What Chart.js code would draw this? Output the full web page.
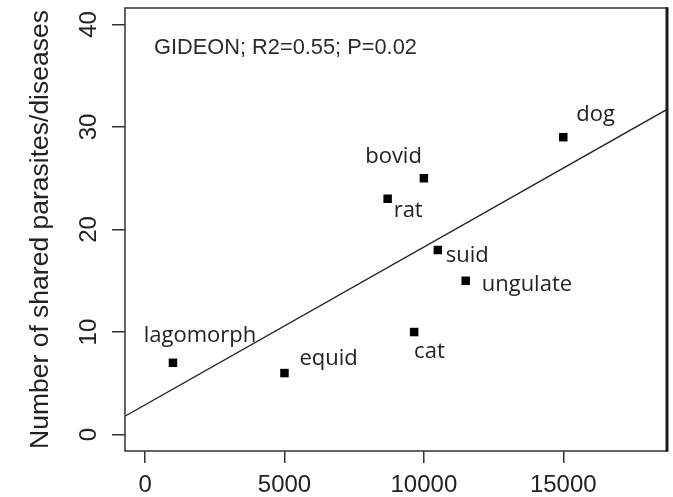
<!DOCTYPE html>
<html>
<head>
<meta charset="utf-8">
<script src="https://cdn.jsdelivr.net/npm/chart.js@4.4.1/dist/chart.umd.min.js"></script>
<style>
  html, body { margin: 0; padding: 0; background: #fff; }
  #wrap { width: 673px; height: 497px; }
  canvas { display: block; }
</style>
</head>
<body>
<div id="wrap"><canvas id="chart" width="673" height="497"></canvas></div>
<script>
// Host groups, their size measure and number of shared parasites/diseases
const species = ['lagomorph', 'equid', 'rat', 'cat', 'bovid', 'suid', 'ungulate', 'dog'];
const hostMeasure = [1000, 5000, 8700, 9650, 10000, 10500, 11500, 15000];
const sharedCount = [7, 6, 23, 10, 25, 18, 15, 29];

// Axis ticks and limits (R-style 4% expansion is applied below)
const xTicks = [0, 5000, 10000, 15000];
const yTicks = [0, 10, 20, 30, 40];
const xLimits = [0, 18000];
const yLimits = [0, 40];

const statsNote = 'GIDEON; R2=0.55; P=0.02';
const yTitle = 'Number of shared parasites/diseases';

// Label placement around each point: offset in px to the text baseline
const labelPlacement = {
  lagomorph: { dx: 27, dy: -21, align: 'center' },
  equid:     { dx: 15, dy: -8,  align: 'left' },
  rat:       { dx: 6,  dy: 18,  align: 'left' },
  cat:       { dx: 0,  dy: 26,  align: 'left' },
  bovid:     { dx: -2, dy: -15, align: 'right' },
  suid:      { dx: 8,  dy: 12,  align: 'left' },
  ungulate:  { dx: 16, dy: 10,  align: 'left' },
  dog:       { dx: 13, dy: -16, align: 'left' }
};

function expand(lim) {
  const pad = (lim[1] - lim[0]) * 0.04;
  return [lim[0] - pad, lim[1] + pad];
}
const xRange = expand(xLimits);
const yRange = expand(yLimits);

// Least-squares fit of sharedCount on hostMeasure
function linearFit(xs, ys) {
  const n = xs.length;
  const mx = xs.reduce((a, b) => a + b, 0) / n;
  const my = ys.reduce((a, b) => a + b, 0) / n;
  let sxy = 0, sxx = 0;
  for (let i = 0; i < n; i++) {
    sxy += (xs[i] - mx) * (ys[i] - my);
    sxx += (xs[i] - mx) * (xs[i] - mx);
  }
  const slope = sxy / sxx;
  return { slope, intercept: my - slope * mx };
}
const fit = linearFit(hostMeasure, sharedCount);
const fitLine = xRange.map(x => ({ x, y: fit.intercept + fit.slope * x }));

const points = hostMeasure.map((x, i) => ({ x, y: sharedCount[i], name: species[i] }));

const AXIS_FONT = 'Liberation Sans, Arial, sans-serif';
const LABEL_FONT = '"Open Sans", "Noto Sans", sans-serif';

const decorations = {
  id: 'decorations',
  afterDraw(chart) {
    const { ctx, chartArea: a, scales } = chart;
    ctx.save();

    // Frame around the plotting region
    ctx.strokeStyle = '#333';
    ctx.lineWidth = 1.5;
    ctx.beginPath();
    ctx.moveTo(a.right, a.top);
    ctx.lineTo(a.left, a.top);
    ctx.lineTo(a.left, a.bottom);
    ctx.lineTo(a.right, a.bottom);
    ctx.stroke();
    ctx.strokeStyle = '#1a1a1a';
    ctx.lineWidth = 3;
    ctx.beginPath();
    ctx.moveTo(a.right, a.top - 0.75);
    ctx.lineTo(a.right, a.bottom + 0.75);
    ctx.stroke();

    // Y tick labels, written along the axis
    ctx.fillStyle = '#222';
    ctx.font = '24px ' + AXIS_FONT;
    ctx.textAlign = 'center';
    ctx.textBaseline = 'alphabetic';
    scales.y.ticks.forEach(t => {
      const py = scales.y.getPixelForValue(t.value);
      ctx.save();
      ctx.translate(a.left - 29, py);
      ctx.rotate(-Math.PI / 2);
      ctx.fillText(String(t.value), 0, 0);
      ctx.restore();
    });

    // Statistics note in the top-left corner
    ctx.fillStyle = '#2b2b2b';
    ctx.font = '21.8px ' + AXIS_FONT;
    ctx.textAlign = 'left';
    ctx.fillText(statsNote, a.left + 29, a.top + 46);

    // Point labels
    ctx.fillStyle = '#222';
    ctx.font = '22px ' + LABEL_FONT;
    const meta = chart.getDatasetMeta(0);
    meta.data.forEach((el, i) => {
      const p = labelPlacement[species[i]];
      ctx.textAlign = p.align;
      ctx.fillText(species[i], el.x + p.dx, el.y + p.dy);
    });

    ctx.restore();
  }
};

new Chart(document.getElementById('chart'), {
  type: 'scatter',
  data: {
    datasets: [
      {
        label: 'hosts',
        data: points,
        pointStyle: 'rect',
        pointRadius: 6,
        pointHoverRadius: 6,
        pointBackgroundColor: '#000',
        pointBorderWidth: 0,
        order: 0
      },
      {
        type: 'line',
        label: 'fit',
        data: fitLine,
        borderColor: '#222',
        borderWidth: 1.3,
        pointRadius: 0,
        fill: false,
        tension: 0,
        order: 1
      }
    ]
  },
  options: {
    responsive: false,
    devicePixelRatio: 1,
    animation: false,
    layout: { padding: { top: 8, right: 4, bottom: 0, left: 0 } },
    plugins: { legend: { display: false }, tooltip: { enabled: false } },
    scales: {
      x: {
        type: 'linear',
        min: xRange[0],
        max: xRange[1],
        afterBuildTicks: s => { s.ticks = xTicks.map(v => ({ value: v })); },
        afterFit: s => { s.height = 46; },
        border: { display: false },
        grid: { drawOnChartArea: false, drawTicks: true, tickLength: 12, color: '#333', lineWidth: 1.5 },
        ticks: {
          callback: v => String(v),
          font: { family: AXIS_FONT, size: 24 },
          color: '#222',
          padding: 8,
          maxRotation: 0,
          autoSkip: false
        }
      },
      y: {
        type: 'linear',
        min: yRange[0],
        max: yRange[1],
        afterBuildTicks: s => { s.ticks = yTicks.map(v => ({ value: v })); },
        afterFit: s => { s.width = 125; },
        border: { display: false },
        grid: { drawOnChartArea: false, drawTicks: true, tickLength: 13, color: '#333', lineWidth: 1.5 },
        ticks: { display: false },
        title: {
          display: true,
          text: yTitle,
          color: '#222',
          font: { family: AXIS_FONT, size: 26.5 },
          padding: { top: 25, bottom: 0 }
        }
      }
    }
  },
  plugins: [decorations]
});
</script>
</body>
</html>
